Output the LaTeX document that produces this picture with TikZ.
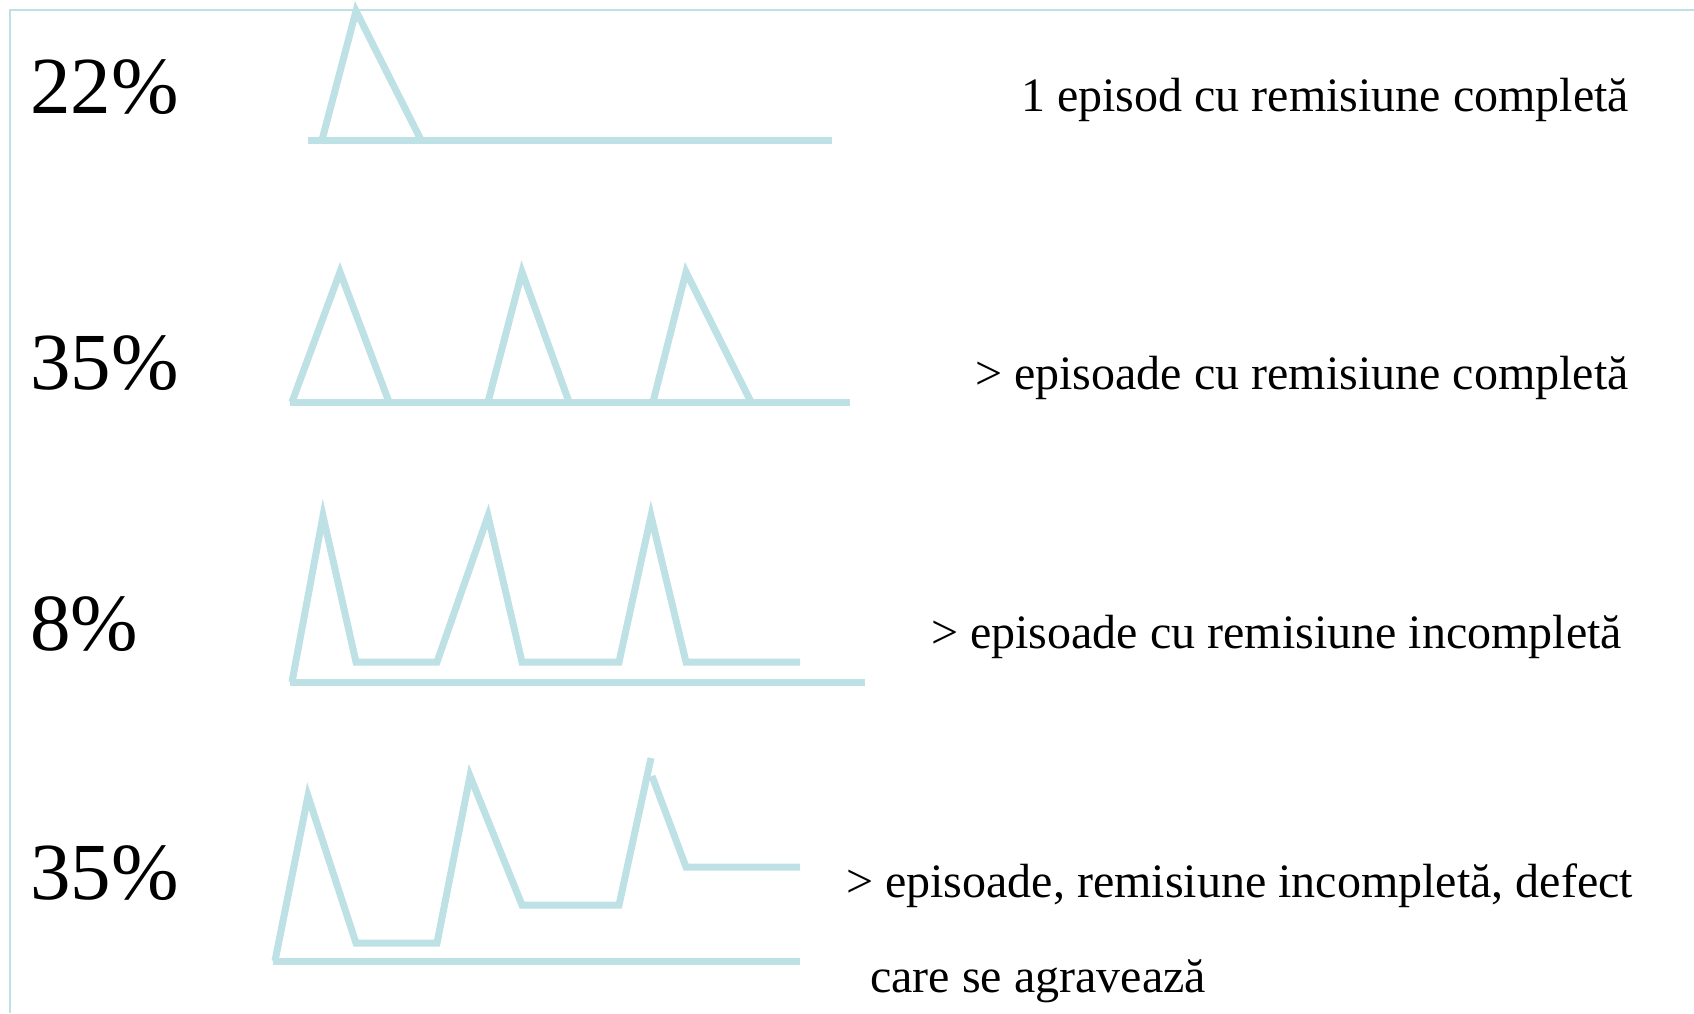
\documentclass[tikz,border=0pt]{standalone}
\usepackage{fontspec}
\setmainfont{Liberation Serif}
\usetikzlibrary{positioning}
\definecolor{curvecol}{RGB}{189,225,228}
\tikzset{
  curve/.style ={draw=curvecol, line width=7pt},
  frame/.style ={draw=curvecol, line width=2pt},
  pct/.style   ={inner sep=0pt, anchor=base west, font=\fontsize{81}{84}\selectfont},
  desc/.style  ={inner sep=0pt, anchor=base west, font=\fontsize{48}{52}\selectfont},
}

\begin{document}
\begin{tikzpicture}[x=1pt,y=-1pt]
  \useasboundingbox (0,0) rectangle (1694,1013);
  % open frame
  \draw[frame] (1694,10) -- (10,10) -- (10,1013);

  % row 1: one episode
  \node[pct] (p1) at (30,113) {22\%};
  \draw[curve] (308,140) -- (832,140);
  \draw[curve] (322,140) -- (356,11) -- (421,140);
  \node[desc] (d1) at (1021,111) {1 episod cu remisiune completă};

  % row 2: several episodes, full remission
  \node[pct] (p2) at (30,389) {35\%};
  \draw[curve] (290,402) -- (850,402);
  \draw[curve] (292,402) -- (340,272) -- (389,402);
  \draw[curve] (488,402) -- (522,272) -- (569,402);
  \draw[curve] (653,402) -- (686,272) -- (751,402);
  \node[desc] (d2) at (975,389) {> episoade cu remisiune completă};

  % row 3: several episodes, incomplete remission
  \node[pct] (p3) at (30,650) {8\%};
  \draw[curve] (290,682) -- (865,682);
  \draw[curve] (292,682) -- (323,516) -- (356,662) -- (437,662) -- (488,516)
    -- (522,662) -- (619,662) -- (651,516) -- (686,662) -- (800,662);
  \node[desc] (d3) at (931,648) {> episoade cu remisiune incompletă};

  % row 4: worsening defect
  \node[pct] (p4) at (30,899) {35\%};
  \draw[curve] (273,961) -- (800,961);
  \draw[curve] (275,961) -- (308,796) -- (356,943) -- (437,943) -- (470,776)
    -- (522,905) -- (619,905) -- (651,758);
  \draw[curve] (652,776) -- (686,867) -- (800,867);
  \node[desc] (d4) at (846,897) {> episoade, remisiune incompletă, defect};
  \node[desc] (d5) at (870,992) {care se agravează};
\end{tikzpicture}
\end{document}
